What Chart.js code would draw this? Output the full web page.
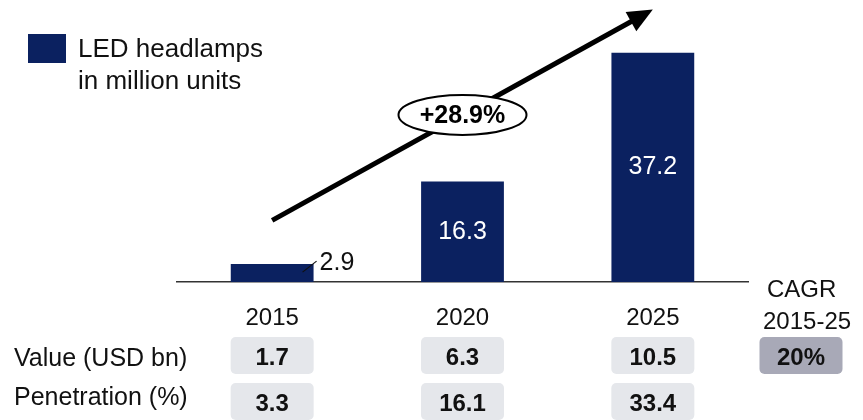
<!DOCTYPE html>
<html>
<head>
<meta charset="utf-8">
<script src="https://cdn.jsdelivr.net/npm/chart.js@4.4.0/dist/chart.umd.min.js"></script>
<style>
  html, body { margin: 0; padding: 0; background: #fff; }
  #wrap { position: relative; width: 863px; height: 420px; }
</style>
</head>
<body>
<div id="wrap"><canvas id="chart" width="863" height="420"></canvas></div>
<script>
// data
const years = ['2015', '2020', '2025'];
const units = [2.9, 16.3, 37.2];            // LED headlamps, million units
const valueUsd = ['1.7', '6.3', '10.5'];     // Value (USD bn)
const penetration = ['3.3', '16.1', '33.4']; // Penetration (%)
const cagrValue = '20%';
const growthLabel = '+28.9%';
const arrowValues = [10, 44.2];              // arrow start/end on the y scale

const FONT = '"Liberation Sans", Arial, sans-serif';
const NAVY = '#0b2160';

// draws legend, labels, trend arrow and the table under the axis
const extras = {
    id: 'extras',
    afterDraw(chart) {
        const ctx = chart.ctx;
        const x = chart.scales.x;
        const y = chart.scales.y;
        const bars = chart.getDatasetMeta(0).data;
        ctx.save();

        // legend
        ctx.fillStyle = NAVY;
        ctx.fillRect(28, 34, 38, 29);
        ctx.fillStyle = '#111';
        ctx.font = '26px ' + FONT;
        ctx.textAlign = 'left';
        ctx.textBaseline = 'middle';
        ctx.fillText('LED headlamps', 78, 50);
        ctx.fillText('in million units', 78, 82);

        // bar values
        ctx.font = '25px ' + FONT;
        bars.forEach((bar, i) => {
            const h = bar.base - bar.y;
            if (h > 40) {
                ctx.fillStyle = '#fff';
                ctx.textAlign = 'center';
                ctx.fillText(units[i].toFixed(1), bar.x, (bar.y + bar.base) / 2);
            } else {
                // small bar: label to the right with a leader line
                const right = bar.x + bar.width / 2;
                ctx.strokeStyle = '#111';
                ctx.lineWidth = 1.2;
                ctx.beginPath();
                ctx.moveTo(right - 11, bar.y + 8);
                ctx.lineTo(right + 3, bar.y - 3);
                ctx.stroke();
                ctx.fillStyle = '#111';
                ctx.textAlign = 'left';
                ctx.fillText(units[i].toFixed(1), right + 6, bar.y - 1);
            }
        });

        // trend arrow
        const x0 = x.getPixelForValue(0), y0 = y.getPixelForValue(arrowValues[0]);
        const x1 = x.getPixelForValue(years.length - 1), y1 = y.getPixelForValue(arrowValues[1]);
        const ang = Math.atan2(y1 - y0, x1 - x0);
        const headLen = 25, headW = 11;
        ctx.strokeStyle = '#000';
        ctx.fillStyle = '#000';
        ctx.lineWidth = 5;
        ctx.beginPath();
        ctx.moveTo(x0, y0);
        ctx.lineTo(x1 - Math.cos(ang) * headLen * 0.8, y1 - Math.sin(ang) * headLen * 0.8);
        ctx.stroke();
        ctx.beginPath();
        ctx.moveTo(x1, y1);
        ctx.lineTo(x1 - Math.cos(ang) * headLen - Math.sin(ang) * headW, y1 - Math.sin(ang) * headLen + Math.cos(ang) * headW);
        ctx.lineTo(x1 - Math.cos(ang) * headLen + Math.sin(ang) * headW, y1 - Math.sin(ang) * headLen - Math.cos(ang) * headW);
        ctx.closePath();
        ctx.fill();

        // growth ellipse in the middle of the arrow
        const mx = (x0 + x1) / 2, my = (y0 + y1) / 2;
        ctx.beginPath();
        ctx.ellipse(mx, my, 64, 20, 0, 0, Math.PI * 2);
        ctx.fillStyle = '#fff';
        ctx.fill();
        ctx.lineWidth = 2;
        ctx.stroke();
        ctx.fillStyle = '#000';
        ctx.font = 'bold 25px ' + FONT;
        ctx.textAlign = 'center';
        ctx.fillText(growthLabel, mx, my + 1);

        // CAGR header
        ctx.font = '24px ' + FONT;
        ctx.fillStyle = '#111';
        ctx.textAlign = 'left';
        ctx.fillText('CAGR', 767, 290);
        ctx.fillText('2015-25', 763, 322);

        // table rows
        ctx.font = '25px ' + FONT;
        ctx.fillText('Value (USD bn)', 14, 359);
        ctx.fillText('Penetration (%)', 14, 398);

        const box = (cx, top, txt, fill) => {
            ctx.fillStyle = fill;
            ctx.beginPath();
            ctx.roundRect(cx - 41.5, top, 83, 37, 5);
            ctx.fill();
            ctx.fillStyle = '#111';
            ctx.font = 'bold 24px ' + FONT;
            ctx.textAlign = 'center';
            ctx.fillText(txt, cx, top + 21);
        };
        years.forEach((yr, i) => {
            const cx = x.getPixelForValue(i);
            box(cx, 337, valueUsd[i], '#e5e7eb');
            box(cx, 383, penetration[i], '#e5e7eb');
        });
        box(801, 337, cagrValue, '#a8a9b7');

        ctx.restore();
    }
};

new Chart(document.getElementById('chart'), {
    type: 'bar',
    data: {
        labels: years,
        datasets: [{
            label: 'LED headlamps in million units',
            data: units,
            backgroundColor: NAVY,
            barPercentage: 0.435,
            categoryPercentage: 1
        }]
    },
    options: {
        responsive: false,
        animation: false,
        devicePixelRatio: 1,
        layout: { padding: { left: 177, right: 115, top: 35.4, bottom: 0 } },
        plugins: { legend: { display: false }, tooltip: { enabled: false } },
        scales: {
            x: {
                grid: { display: false, drawTicks: false },
                border: { display: true, color: '#333', width: 1.5 },
                ticks: { color: '#111', font: { family: FONT, size: 24 }, padding: 22 },
                afterFit(scale) { scale.height = 138; }
            },
            y: { display: false, min: 0, max: 40 }
        }
    },
    plugins: [extras]
});
</script>
</body>
</html>
